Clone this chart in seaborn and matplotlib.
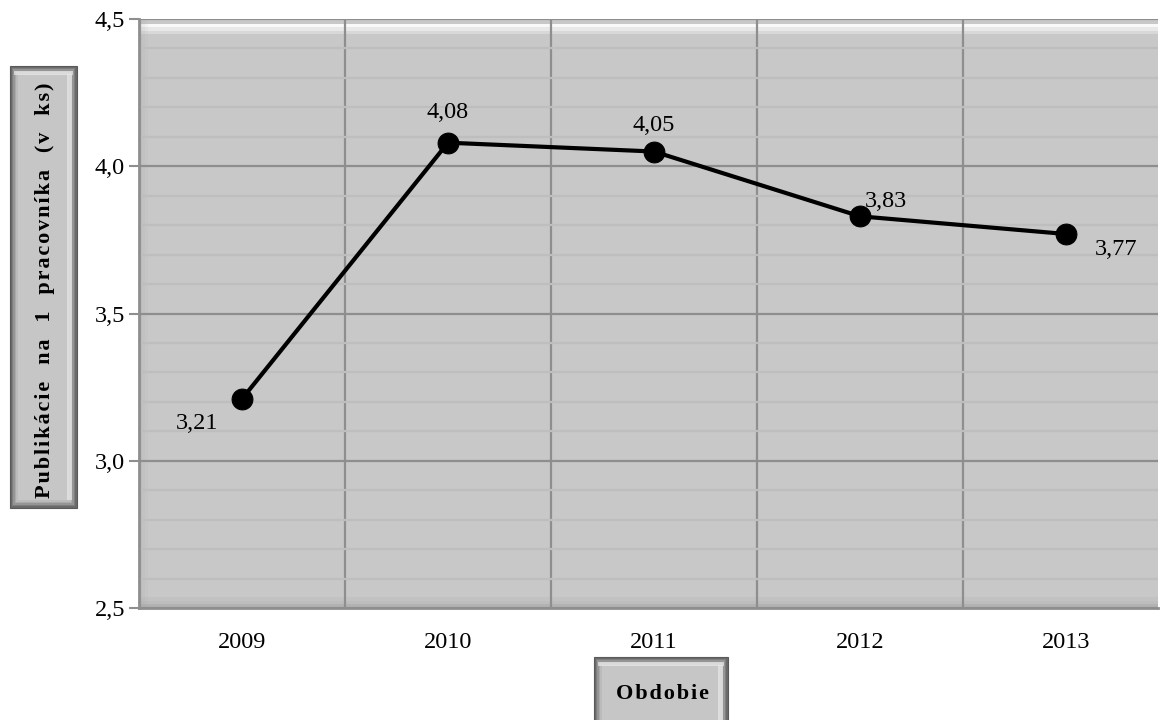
import matplotlib
matplotlib.use("Agg")
import matplotlib.pyplot as plt
import seaborn as sns
import numpy as np
import pandas as pd
from matplotlib.patches import Rectangle
from matplotlib.ticker import FuncFormatter, MultipleLocator

years = ["2009", "2010", "2011", "2012", "2013"]
values = [3.21, 4.08, 4.05, 3.83, 3.77]
value_labels = ["3,21", "4,08", "4,05", "3,83", "3,77"]
y_label = "Publikácie  na  1  pracovníka  (v  ks)"
x_label = "Obdobie"

sns.set_theme(style="white")
plt.rcParams['font.family'] = ['Liberation Serif', 'DejaVu Serif']

W, H = 1160, 720
fig = plt.figure(figsize=(W / 100, H / 100), dpi=100)
L, R, T, B = 139, 1158, 19, 608
ax = fig.add_axes([L / W, 1 - B / H, (R - L) / W, (B - T) / H])

df = pd.DataFrame({"year": years, "value": values})
ax.set_facecolor("#C8C8C8")

# bevel effect inside plot area
for i, a in enumerate([0.9, 0.6, 0.3]):
    ax.add_patch(Rectangle((0, 1 - (i + 1) * 0.006 - 0.008), 1, 0.006, transform=ax.transAxes,
                           facecolor="#FFFFFF", alpha=a, edgecolor="none", zorder=0.5))
for i, a in enumerate([0.3, 0.15, 0.07]):
    ax.add_patch(Rectangle((0, i * 0.006), 1, 0.006, transform=ax.transAxes,
                           facecolor="#808080", alpha=a, edgecolor="none", zorder=0.5))
    ax.add_patch(Rectangle((i * 0.003, 0), 0.003, 1, transform=ax.transAxes,
                           facecolor="#A0A0A0", alpha=a, edgecolor="none", zorder=0.5))

sns.lineplot(data=df, x="year", y="value", ax=ax, color="black", linewidth=3,
             marker="o", markersize=15, markeredgecolor="black", zorder=5)

ax.set_ylim(2.5, 4.5)
ax.set_xlim(-0.5, 4.447)
ax.yaxis.set_major_locator(MultipleLocator(0.5))
ax.yaxis.set_minor_locator(MultipleLocator(0.1))
ax.yaxis.set_major_formatter(FuncFormatter(lambda v, p: f"{v:.1f}".replace(".", ",")))
ax.set_xticks(range(len(years)))
ax.set_xticklabels(years)
ax.set_xticks(np.arange(0.5, len(years) - 0.5, 1), minor=True)

ax.grid(which="major", axis="y", color="#8E8E8E", linewidth=1.6, zorder=1)
ax.grid(which="minor", axis="y", color="#BEBEBE", linewidth=1.6, zorder=1)
ax.grid(which="minor", axis="x", color="#8E8E8E", linewidth=1.6, zorder=1)
ax.set_axisbelow(True)

for s in ax.spines.values():
    s.set_visible(False)
for side in ("left", "bottom"):
    ax.spines[side].set_visible(True)
    ax.spines[side].set_color("#8E8E8E")
    ax.spines[side].set_linewidth(2)

ax.tick_params(axis="y", which="major", left=True, length=7, width=1.5, color="#8E8E8E",
               labelsize=17.5, pad=3)
ax.tick_params(axis="y", which="minor", left=False)
ax.tick_params(axis="x", which="both", bottom=False, labelsize=17.5, pad=11)
for t in ax.get_xticklabels() + ax.get_yticklabels():
    t.set_color("black")
ax.set_xlabel("")
ax.set_ylabel("")

offsets = [(-32, -18), (0, 22), (0, 19), (19, 11), (36, -11)]
for i, (v, lab) in enumerate(zip(values, value_labels)):
    ax.annotate(lab, (i, v), xytext=offsets[i], textcoords="offset points",
                ha="center", va="center", fontsize=17.5, color="black", zorder=6)


def beveled_box(x0, y0, x1, y1):
    fig.add_artist(Rectangle((x0 / W, 1 - y1 / H), (x1 - x0) / W, (y1 - y0) / H,
                             transform=fig.transFigure, facecolor="#6A6A6A",
                             edgecolor="#5A5A5A", linewidth=0.8))
    inset = 8
    shades = ["#7E7E7E", "#959595", "#AAAAAA", "#BBBBBB", "#C6C6C6"]
    for k, c in enumerate(shades):
        d = (k + 1) * inset / len(shades)
        fig.add_artist(Rectangle(((x0 + d) / W, 1 - (y1 - d) / H), (x1 - x0 - 2 * d) / W,
                                 (y1 - y0 - 2 * d) / H, transform=fig.transFigure,
                                 facecolor=c, edgecolor="none"))
    fig.add_artist(Rectangle(((x0 + 4) / W, 1 - (y0 + 9) / H), (x1 - x0 - 8) / W, 4 / H,
                             transform=fig.transFigure, facecolor="#EAEAEA", edgecolor="none", alpha=0.7))
    fig.add_artist(Rectangle(((x1 - 10) / W, 1 - (y1 - 8) / H), 5 / W, (y1 - y0 - 16) / H,
                             transform=fig.transFigure, facecolor="#E8E8E8", edgecolor="none", alpha=0.7))


HS = "\u200a"
beveled_box(10, 66, 77, 508)
fig.text(45 / W, 1 - 290 / H, HS.join(list(y_label)), rotation=90,
         ha="center", va="center", fontsize=16, fontweight="bold", color="black")
beveled_box(594, 657, 728, 735)
fig.text(662 / W, 1 - 694 / H, HS.join(list(x_label)), ha="center", va="center",
         fontsize=16, fontweight="bold", color="black")

fig.savefig("out.png", dpi=100)
